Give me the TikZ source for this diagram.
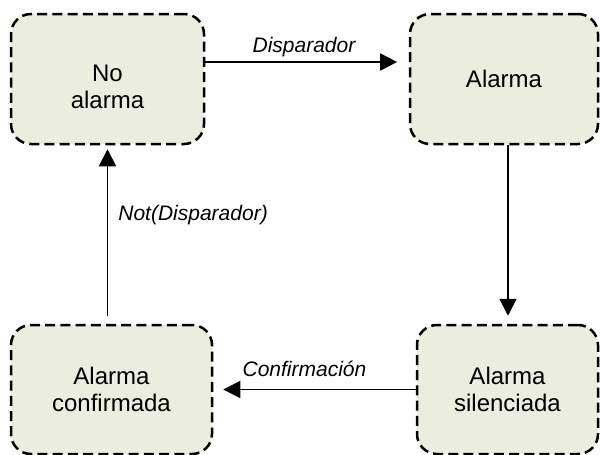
\documentclass[tikz,border=0pt]{standalone}
\usepackage{fontspec}
\setmainfont{Liberation Sans}
\usetikzlibrary{arrows.meta,positioning}

\definecolor{boxfill}{RGB}{235,237,223}

\tikzset{
  state/.style={draw, fill=boxfill, line width=1.25pt, dash pattern=on 5pt off 2.6pt,
    rounded corners=10pt, minimum height=65pt, inner sep=2pt, align=center,
    font=\fontsize{12}{13.8}\selectfont},
  boxtext/.style={align=center, inner sep=0pt, font=\fontsize{12}{13.8}\selectfont},
  arr/.style={line width=0.9pt, -{Triangle[length=8.5pt,width=8.5pt]}},
  lbl/.style={inner sep=2pt, font=\fontsize{10.5}{12}\selectfont\itshape}
}

\begin{document}
\begin{tikzpicture}[x=0.5pt, y=-0.5pt]
            \useasboundingbox (0,0) rectangle (600,455);

            \node[state, minimum width=96.5pt,
                  label={[boxtext, yshift=-3.9pt]center:No\\alarma}] (noal) at (107.5,79) {};
            \node[state, minimum width=94pt] (al) at (504,79) {Alarma};
            \node[state, minimum width=90.5pt, minimum height=64.5pt] (alsil) at (507.5,389.5) {Alarma\\silenciada};
            \node[state, minimum width=100.5pt, minimum height=64.5pt] (alconf) at (111.5,389.5) {Alarma\\confirmada};

            \draw[arr, shorten >=5.8pt] ([yshift=8.5pt]noal.east) -- ([yshift=8.5pt]al.west)
                node[lbl, midway, anchor=base, yshift=4.5pt, xshift=-1.5pt]{Disparador};
            \draw[arr, shorten >=4pt] ([xshift=2pt]al.south) -- ([xshift=2pt]al.south |- alsil.north);
            \draw[arr, shorten >=5pt] (alsil.west) -- (alconf.east)
                node[lbl, midway, anchor=base, yshift=6.5pt, xshift=-5pt]{Confirmación};
            \draw[arr, shorten <=4pt, shorten >=2pt] (noal.south |- alconf.north) -- (noal.south)
                node[lbl, pos=0.61, right, xshift=3pt]{Not(Disparador)};
        \end{tikzpicture}
\end{document}
